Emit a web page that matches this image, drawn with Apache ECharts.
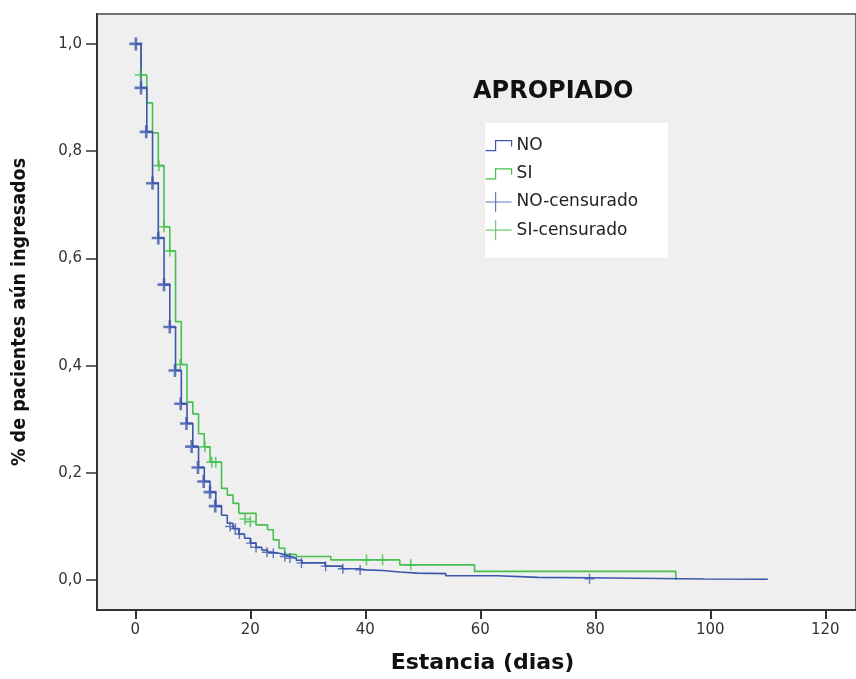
<!DOCTYPE html>
<html>
<head>
<meta charset="utf-8">
<title>Estancia - APROPIADO</title>
<script src="https://cdn.jsdelivr.net/npm/echarts@6/dist/echarts.min.js"></script>
<style>
html, body { margin: 0; padding: 0; background: #ffffff; }
#main { width: 856px; height: 679px; }
</style>
</head>
<body>
<div id="main"></div>
<script>
// curva NO: tiempo (dias) y proporcion tras cada salto
var noTimes = [0, 1, 2, 3, 4, 5, 6, 7, 8, 9, 10, 11, 12, 13, 14, 15, 16, 17, 18, 19, 20, 21, 22, 23, 24, 25, 26, 27, 28, 29, 33, 36, 39, 40, 43, 46, 49, 54, 63, 70, 83, 99, 110];
var noSurv = [1.0, 0.918, 0.836, 0.740, 0.638, 0.551, 0.472, 0.391, 0.329, 0.292, 0.249, 0.210, 0.184, 0.164, 0.138, 0.121, 0.106, 0.096, 0.086, 0.078, 0.069, 0.061, 0.056, 0.052, 0.050, 0.047, 0.044, 0.041, 0.037, 0.032, 0.026, 0.021, 0.019, 0.018, 0.015, 0.013, 0.012, 0.008, 0.005, 0.004, 0.002, 0.0015, 0.0015];

// curva SI
var siTimes = [0, 1, 2, 3, 4, 5, 6, 7, 8, 9, 10, 11, 12, 13, 15, 16, 17, 18, 21, 23, 24, 25, 26, 28, 34, 46, 59, 94];
var siSurv = [1.0, 0.942, 0.890, 0.834, 0.773, 0.659, 0.614, 0.482, 0.402, 0.332, 0.310, 0.273, 0.2485, 0.220, 0.171, 0.1585, 0.143, 0.1245, 0.103, 0.094, 0.075, 0.0595, 0.048, 0.044, 0.0377, 0.0284, 0.0162, 0.0];

// casos censurados [tiempo, proporcion]
var noCens = [[0.1, 1.0], [1, 0.918], [1.9, 0.836], [3, 0.740], [4, 0.638], [5, 0.551], [6, 0.472], [6.9, 0.391], [7.9, 0.329], [8.9, 0.292], [9.8, 0.249], [10.9, 0.210], [11.9, 0.184], [13, 0.164], [13.9, 0.138], [16.5, 0.100], [17.4, 0.096], [18.1, 0.086], [20.1, 0.069], [21, 0.061], [22.9, 0.052], [24, 0.050], [26, 0.044], [26.9, 0.041], [28.9, 0.032], [33.1, 0.026], [36.1, 0.021], [39.1, 0.019], [79, 0.0025]];
var siCens = [[0.9, 0.942], [4.1, 0.773], [5, 0.659], [6, 0.614], [7.8, 0.402], [12.1, 0.2485], [13.3, 0.220], [14, 0.220], [19.1, 0.114], [20, 0.109], [40.2, 0.0377], [43, 0.0377], [47.9, 0.0284]];

var xTicks = [0, 20, 40, 60, 80, 100, 120];
var yTicks = [0, 0.2, 0.4, 0.6, 0.8, 1.0];

var azul = '#3d56ad';
var verde = '#45c04e';

function pares(t, s) {
    return t.map(function (v, i) { return [v, s[i]]; });
}

var stepIcon = 'path://M0,0M0,20M0,15L10,15L10,5L26,5L26,11';
var plusIcon = 'path://M0,10L26,10M10,0L10,20';
var plusMark = 'path://M0,5L10,5M5,0L5,10';

var myChart = echarts.init(document.getElementById('main'));

var option = {
    animation: false,
    backgroundColor: '#ffffff',
    title: {
        text: 'APROPIADO',
        left: 468,
        top: 75,
        textStyle: { fontFamily: 'DejaVu Sans', fontWeight: 'bold', fontSize: 24, color: '#111' }
    },
    legend: {
        orient: 'vertical',
        left: 485,
        top: 123,
        backgroundColor: '#ffffff',
        padding: [12, 30, 17, 0],
        itemWidth: 26,
        itemHeight: 20,
        itemGap: 7,
        itemTextGap: 3,
        textStyle: { fontFamily: 'DejaVu Sans', fontSize: 17, color: '#222' },
        data: [
            { name: 'NO', icon: stepIcon, itemStyle: { color: 'transparent', borderColor: azul, borderWidth: 1.2 } },
            { name: 'SI', icon: stepIcon, itemStyle: { color: 'transparent', borderColor: verde, borderWidth: 1.2 } },
            { name: 'NO-censurado', icon: plusIcon, itemStyle: { color: 'transparent', borderColor: azul, borderWidth: 1.2 } },
            { name: 'SI-censurado', icon: plusIcon, itemStyle: { color: 'transparent', borderColor: verde, borderWidth: 1.2 } }
        ]
    },
    grid: {
        left: 97,
        right: 0,
        top: 14,
        bottom: 68,
        show: true,
        backgroundColor: '#efefef',
        borderColor: '#444',
        borderWidth: 1.5
    },
    xAxis: {
        type: 'value',
        min: -6.66,
        max: 125.34,
        name: 'Estancia (dias)',
        nameLocation: 'middle',
        nameGap: 42,
        nameTextStyle: { fontFamily: 'DejaVu Sans', fontWeight: 'bold', fontSize: 22, color: '#111', padding: [0, 0, 0, 12] },
        axisLine: { onZero: false, lineStyle: { color: '#333', width: 2 } },
        axisTick: { customValues: xTicks, length: 9, lineStyle: { color: '#333', width: 2 } },
        axisLabel: { customValues: xTicks, margin: 13, fontFamily: 'DejaVu Sans', fontSize: 15, color: '#333' },
        splitLine: { show: false }
    },
    yAxis: {
        type: 'value',
        min: -0.0558,
        max: 1.0558,
        name: '% de pacientes aún ingresados',
        nameLocation: 'middle',
        nameGap: 67,
        nameTextStyle: { fontFamily: "'DejaVu Sans Condensed', sans-serif", fontWeight: 'bold', fontSize: 19.5, color: '#111' },
        axisLine: { show: true, onZero: false, lineStyle: { color: '#333', width: 2 } },
        axisTick: { show: true, customValues: yTicks, length: 11, lineStyle: { color: '#333', width: 1.5 } },
        axisLabel: {
            customValues: yTicks,
            margin: 15,
            fontFamily: 'DejaVu Sans',
            fontSize: 15,
            color: '#333',
            formatter: function (v) { return v.toFixed(1).replace('.', ','); }
        },
        splitLine: { show: false }
    },
    series: [
        {
            name: 'NO',
            type: 'line',
            step: 'end',
            symbol: 'none',
            data: pares(noTimes, noSurv),
            lineStyle: { color: azul, width: 1.6 },
            itemStyle: { color: azul },
            z: 3
        },
        {
            name: 'SI',
            type: 'line',
            step: 'end',
            symbol: 'none',
            data: pares(siTimes, siSurv),
            lineStyle: { color: verde, width: 1.6 },
            itemStyle: { color: verde },
            z: 2
        },
        {
            name: 'NO-censurado',
            type: 'scatter',
            symbol: plusMark,
            data: noCens.map(function (p) {
                var grande = p[0] < 15;
                return {
                    value: p,
                    symbolSize: grande ? 13 : 10,
                    itemStyle: { borderWidth: grande ? 2.6 : 1.4 }
                };
            }),
            itemStyle: { color: azul, borderColor: azul, borderWidth: 1.4 },
            z: 5
        },
        {
            name: 'SI-censurado',
            type: 'scatter',
            symbol: plusMark,
            symbolSize: 11,
            data: siCens,
            itemStyle: { color: verde, borderColor: verde, borderWidth: 1.6 },
            z: 4
        }
    ]
};

myChart.setOption(option);
</script>
</body>
</html>
